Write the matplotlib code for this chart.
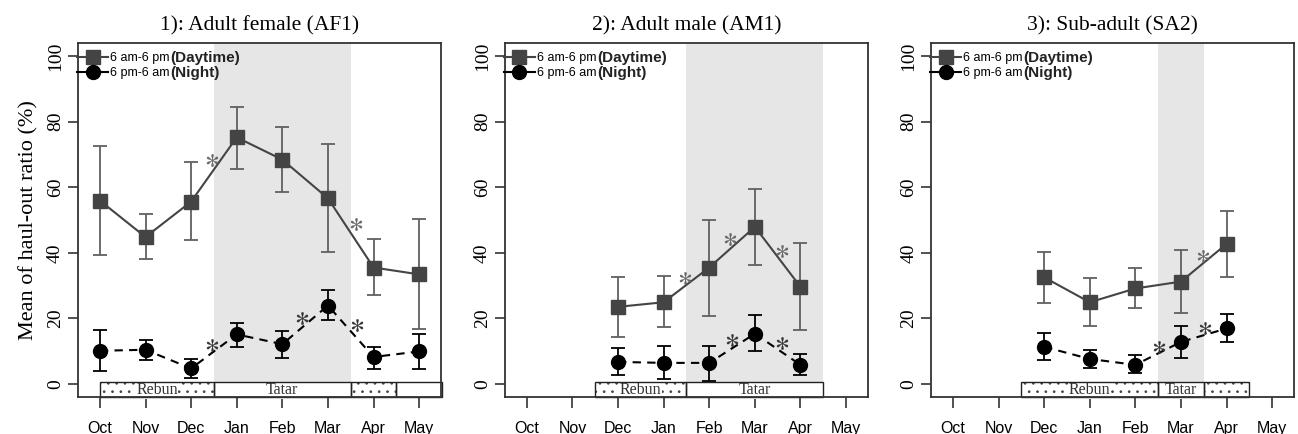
import numpy as np
import matplotlib
matplotlib.use("Agg")
import matplotlib.pyplot as plt
from matplotlib.lines import Line2D
from matplotlib.patches import Rectangle

plt.rcParams.update({
    "font.family": "Liberation Serif",
    "mathtext.fontset": "stix",
    "hatch.linewidth": 0.7,
    "hatch.color": "#444444",
})

months = ["Oct", "Nov", "Dec", "Jan", "Feb", "Mar", "Apr", "May"]

# panel 1: adult female, Oct..May
af1_x = [0, 1, 2, 3, 4, 5, 6, 7]
af1_day = [55.9, 44.8, 55.6, 75.2, 68.4, 56.6, 35.5, 33.4]
af1_day_hi = [72.5, 51.9, 67.7, 84.6, 78.5, 73.1, 44.1, 50.2]
af1_day_lo = [39.3, 38.2, 43.8, 65.5, 58.6, 40.3, 27.1, 16.6]
af1_night = [10.1, 10.4, 4.7, 15.1, 12.1, 23.9, 8.2, 9.9]
af1_night_hi = [16.5, 13.5, 7.5, 18.7, 16.0, 28.5, 11.4, 15.2]
af1_night_lo = [3.8, 7.2, 1.9, 11.1, 7.8, 19.5, 4.6, 4.6]
af1_star_day = [(2.45, 68.4), (5.61, 48.9)]
af1_star_night = [(2.45, 11.9), (4.44, 20.1), (5.63, 18.0)]
af1_places = [("Rebun", 0, 2.5, True), ("Tatar", 2.5, 5.5, False),
              ("", 5.5, 6.5, True), ("", 6.5, 7.5, False)]
af1_tatar = (2.5, 5.5)

# panel 2: adult male, Dec..Apr
am1_x = [2, 3, 4, 5, 6]
am1_day = [23.5, 24.9, 35.5, 47.9, 29.6]
am1_day_hi = [32.5, 32.8, 50.1, 59.5, 42.9]
am1_day_lo = [14.3, 17.5, 20.8, 36.2, 16.5]
am1_night = [6.7, 6.4, 6.4, 15.3, 5.8]
am1_night_hi = [10.8, 11.5, 11.5, 21.0, 9.1]
am1_night_lo = [2.7, 1.5, 1.0, 9.9, 2.7]
am1_star_day = [(3.47, 32.3), (4.45, 44.2), (5.6, 40.4)]
am1_star_night = [(4.5, 13.4), (5.6, 12.4)]
am1_places = [("Rebun", 1.5, 3.5, True), ("Tatar", 3.5, 6.5, False)]
am1_tatar = (3.5, 6.5)

# panel 3: sub-adult, Dec..Apr
sa2_x = [2, 3, 4, 5, 6]
sa2_day = [32.5, 24.9, 29.1, 31.2, 42.7]
sa2_day_hi = [40.1, 32.4, 35.5, 40.7, 52.6]
sa2_day_lo = [24.6, 17.7, 23.2, 21.7, 32.6]
sa2_night = [11.3, 7.6, 5.8, 12.8, 16.9]
sa2_night_hi = [15.4, 10.4, 8.9, 17.7, 21.2]
sa2_night_lo = [7.4, 4.9, 3.3, 7.8, 12.8]
sa2_star_day = [(5.49, 38.9)]
sa2_star_night = [(4.52, 11.4), (5.53, 17.0)]
sa2_places = [("Rebun", 1.5, 4.5, True), ("Tatar", 4.5, 5.5, False),
              ("", 5.5, 6.5, True)]
sa2_tatar = (4.5, 5.5)

titles = ["1): Adult female (AF1)", "2): Adult male (AM1)", "3): Sub-adult (SA2)"]

DAY_C = "#444444"
DAY_ERR = "#606060"
NIGHT_C = "#000000"
YMIN, YMAX = -4, 104
BOX_TOP = 0.5

panels = [
    (af1_x, af1_day, af1_day_lo, af1_day_hi, af1_night, af1_night_lo, af1_night_hi,
     af1_star_day, af1_star_night, af1_places, af1_tatar),
    (am1_x, am1_day, am1_day_lo, am1_day_hi, am1_night, am1_night_lo, am1_night_hi,
     am1_star_day, am1_star_night, am1_places, am1_tatar),
    (sa2_x, sa2_day, sa2_day_lo, sa2_day_hi, sa2_night, sa2_night_lo, sa2_night_hi,
     sa2_star_day, sa2_star_night, sa2_places, sa2_tatar),
]

fig = plt.figure(figsize=(12.98, 4.34), dpi=100)
lefts = [0.0601, 0.389, 0.7173]
legends = []

for i, p in enumerate(panels):
    (x, d, dlo, dhi, n, nlo, nhi, sd, sn, places, tatar) = p
    ax = fig.add_axes([lefts[i], 0.0853, 0.2797, 0.8157])
    ax.set_xlim(-0.48, 7.48)
    ax.set_ylim(YMIN, YMAX)

    # shaded Tatar period
    ax.fill_between(list(tatar), BOX_TOP, YMAX, color="#e6e6e6", lw=0, zorder=0)

    # location boxes: dotted fill, label, then outline on top
    for name, x0, x1, dotted in places:
        ax.add_patch(Rectangle((x0, YMIN), x1 - x0, BOX_TOP - YMIN, facecolor="white",
                               edgecolor="#444444", lw=0, hatch=".." if dotted else None,
                               zorder=1, clip_on=False))
        if name:
            ax.text((x0 + x1) / 2, (YMIN + BOX_TOP) / 2 - 0.2, name, ha="center",
                    va="center", fontsize=11.5, color="#333333", zorder=2,
                    bbox=dict(facecolor="white", edgecolor="none", pad=0.5))
        ax.add_patch(Rectangle((x0, YMIN), x1 - x0, BOX_TOP - YMIN, fill=False,
                               edgecolor="#222222", lw=1.0, zorder=2.5, clip_on=False))

    d = np.array(d)
    n = np.array(n)
    ax.errorbar(x, d, yerr=[d - np.array(dlo), np.array(dhi) - d], fmt="none",
                ecolor=DAY_ERR, elinewidth=1.3, capsize=5, capthick=1.3, zorder=3)
    ax.plot(x, d, color=DAY_C, lw=1.5, marker="s", ms=10, zorder=4)
    ax.errorbar(x, n, yerr=[n - np.array(nlo), np.array(nhi) - n], fmt="none",
                ecolor=NIGHT_C, elinewidth=1.3, capsize=5, capthick=1.3, zorder=3)
    ax.plot(x, n, color=NIGHT_C, lw=1.5, ls=(0, (4, 3)), marker="o", ms=10, zorder=4)

    ax.plot([s[0] for s in sd], [s[1] for s in sd], ls="none", marker="$*$",
            ms=9, mew=0.2, color="#666666", zorder=5)
    ax.plot([s[0] for s in sn], [s[1] for s in sn], ls="none", marker="$*$",
            ms=9, mew=0.2, color="#333333", zorder=5)

    ax.set_xticks(range(len(months)))
    ax.set_xticklabels(months, fontfamily="Liberation Sans", fontsize=11.5)
    ax.set_yticks([0, 20, 40, 60, 80, 100])
    ax.set_yticklabels(["0", "20", "40", "60", "80", "100"], fontsize=14,
                       fontfamily="Liberation Serif", rotation=90, va="center")
    ax.tick_params(axis="x", length=8, width=1.2, pad=9, color="#333333")
    ax.tick_params(axis="y", length=7, width=1.2, pad=3, color="#333333")
    for s in ax.spines.values():
        s.set_linewidth(1.3)
        s.set_color("#333333")

    ax.set_title(titles[i], fontsize=15.5, pad=9)

    handles = [
        Line2D([], [], color=DAY_C, marker="s", ms=10, lw=1.5),
        Line2D([], [], color=NIGHT_C, marker="o", ms=10, lw=1.5),
    ]
    leg = ax.legend(handles, ["6 am-6 pm", "6 pm-6 am"], loc="upper left",
                    bbox_to_anchor=(-0.003, 0.974), frameon=False, borderpad=0,
                    borderaxespad=0, handlelength=2.5, handletextpad=0.15,
                    labelspacing=0.25, prop={"family": "Liberation Sans", "size": 9})
    legends.append((ax, leg))

    if i == 0:
        ax.set_ylabel("Mean of haul-out ratio (%)", fontsize=16, labelpad=6)

# bold words after the legend labels
fig.canvas.draw()
for ax, leg in legends:
    inv = ax.transAxes.inverted()
    for txt, word in zip(leg.get_texts(), ["(Daytime)", "(Night)"]):
        bb = txt.get_window_extent()
        xa, ya = inv.transform((bb.x1 + 1, (bb.y0 + bb.y1) / 2))
        ax.text(xa, ya, word, transform=ax.transAxes, ha="left", va="center",
                fontfamily="Liberation Sans", fontsize=11, fontweight="bold",
                color="#222222")

fig.savefig("out.png", dpi=100)
